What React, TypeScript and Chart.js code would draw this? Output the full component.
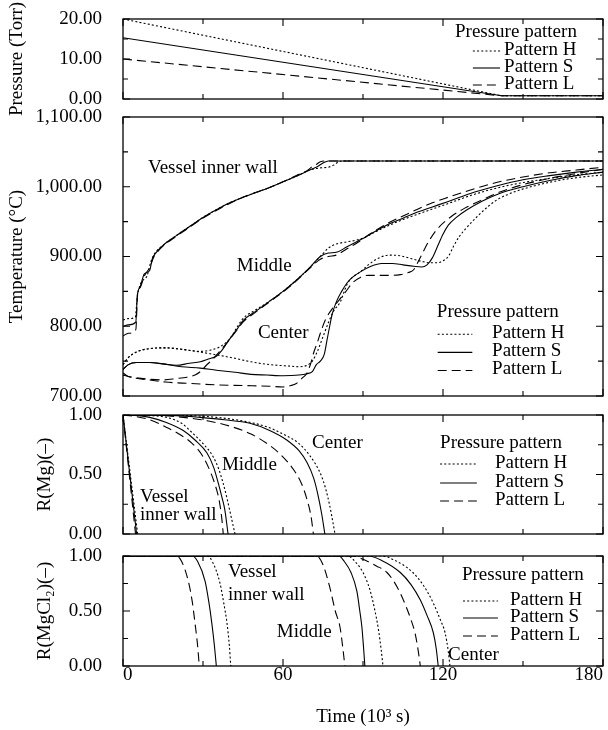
import React, { useEffect, useRef } from "react";
import { Chart, registerables } from "chart.js";

Chart.register(...registerables);

type Pt = [number, number];

// ---------- tick values ----------
const timeTicks = [0, 30, 60, 90, 120, 150, 180];
const timeLabels = [0, 60, 120, 180];
const pressureTicks = [0, 5, 10, 15, 20];
const pressureLabels = [0, 10, 20];
const tempTicks = [700, 750, 800, 850, 900, 950, 1000, 1050, 1100];
const tempLabels = [700, 800, 900, 1000, 1100];
const ratioTicks = [0, 0.25, 0.5, 0.75, 1];
const ratioLabels = [0, 0.5, 1];

const patternNames = ["Pattern H", "Pattern S", "Pattern L"];

// ---------- pressure (Torr) ----------
const pressureH: Pt[] = [[0, 20], [142, 0.8], [180, 0.8]];
const pressureS: Pt[] = [[0, 15.3], [142, 0.8], [180, 0.8]];
const pressureL: Pt[] = [[0, 10], [142, 0.8], [180, 0.8]];

// ---------- temperature (°C) ----------
const tempWallH: Pt[] = [[0, 809], [2, 811], [4.6, 813], [5.3, 840], [6.2, 857], [7.5, 866], [9, 872], [10.5, 893], [12, 905], [15, 916], [20, 930], [25, 943], [30, 956], [35, 967], [40, 977], [45, 985], [50, 992], [55, 999], [60, 1007], [65, 1015], [70, 1024], [74, 1027], [77, 1028], [79, 1031], [81, 1036], [83, 1037], [180, 1037]];
const tempWallS: Pt[] = [[0, 800], [2, 802], [4.8, 806], [5.4, 845], [6.4, 856], [8, 875], [10, 880], [11, 897], [12.5, 906], [15, 916], [20, 930], [25, 943], [30, 956], [35, 967], [40, 977], [45, 985], [50, 992], [55, 999], [60, 1007], [65, 1015], [70, 1024], [73, 1029], [75, 1034], [77, 1037], [180, 1037]];
const tempWallL: Pt[] = [[0, 786], [2, 790], [4.8, 795], [5.5, 848], [6.5, 856], [8, 872], [10, 884], [11.5, 899], [13, 907], [15, 915], [20, 929], [25, 942], [30, 955], [35, 966], [40, 976], [45, 985], [50, 992], [55, 999], [60, 1007], [65, 1016], [69, 1023], [71, 1029], [72.5, 1032], [74, 1036], [76, 1037], [180, 1037]];

const tempMidH: Pt[] = [[0, 745], [2, 755], [5, 763], [10, 768], [16, 769], [22, 767], [29, 764], [33, 766], [36, 770], [39, 778], [41, 787], [43, 800], [45, 811], [50, 824], [55, 836], [60, 850], [65, 866], [70, 884], [74, 900], [77, 912], [80, 918], [84, 921], [88, 924], [91, 928], [95, 936], [100, 945], [105, 953], [110, 960], [116, 968], [122, 976], [130, 987], [140, 998], [150, 1006], [160, 1012], [170, 1017], [180, 1021]];
const tempMidS: Pt[] = [[0, 738], [2, 745], [5, 748], [10, 748], [15, 746], [20, 744], [25, 747], [29, 749], [32, 753], [35, 757], [37, 765], [39, 776], [41, 787], [43, 797], [45, 808], [50, 822], [55, 836], [60, 850], [65, 866], [70, 884], [74, 900], [77, 905], [80, 906], [84, 914], [88, 922], [91, 928], [95, 937], [100, 947], [105, 955], [110, 963], [116, 971], [122, 979], [130, 990], [140, 1001], [150, 1010], [160, 1016], [170, 1021], [180, 1025]];
const tempMidL: Pt[] = [[0, 730], [2, 728], [5, 726], [10, 724], [15, 723], [20, 725], [24, 727], [27, 730], [29, 735], [31, 743], [34, 754], [36, 763], [38, 772], [41, 786], [43, 796], [45, 806], [50, 821], [55, 835], [60, 849], [65, 865], [70, 883], [74, 896], [77, 900], [80, 902], [84, 911], [88, 920], [91, 928], [95, 938], [100, 949], [105, 958], [110, 967], [116, 977], [122, 985], [130, 995], [140, 1006], [150, 1014], [160, 1020], [170, 1024], [180, 1028]];

const tempCenH: Pt[] = [[0, 745], [2, 755], [5, 763], [10, 768], [16, 769], [22, 767], [29, 763], [35, 759], [42, 754], [48, 749], [55, 745], [62, 743], [66, 742], [69, 744], [71, 750], [73, 765], [75, 785], [77, 805], [79, 822], [81.5, 835], [84, 860], [86, 870], [89, 878], [92, 888], [96, 898], [100, 902], [104, 901], [108, 897], [112, 893], [115, 891], [118, 891], [120, 894], [122, 900], [124, 915], [126, 928], [129, 942], [133, 958], [137, 972], [141, 983], [147, 993], [154, 1001], [162, 1008], [170, 1013], [180, 1017]];
const tempCenS: Pt[] = [[0, 738], [2, 745], [5, 748], [10, 748], [15, 746], [22, 742], [29, 740], [35, 737], [42, 734], [48, 731], [54, 730], [60, 729], [66, 730], [69, 732], [71, 735], [72.5, 745], [74, 750], [75.5, 760], [76.5, 780], [77.5, 800], [78.5, 818], [80, 835], [82, 850], [84, 862], [86, 870], [89, 878], [93, 886], [97, 890], [101, 890], [105, 888], [109, 886], [112, 885], [114, 888], [116, 898], [118, 915], [120, 932], [122, 945], [125, 956], [129, 967], [135, 980], [141, 990], [150, 1000], [160, 1009], [170, 1016], [180, 1021]];
const tempCenL: Pt[] = [[0, 733], [2, 728], [4, 726], [10, 723], [16, 720], [25, 718], [35, 716], [45, 715], [55, 714], [60, 713], [63, 715], [65, 718], [67, 725], [69, 733], [70.5, 748], [71.5, 762], [73, 778], [74, 790], [76, 810], [79, 828], [82, 842], [84, 852], [86, 862], [89, 870], [92, 873], [96, 873], [100, 873], [104, 874], [107, 877], [109, 881], [111, 895], [113, 910], [115, 924], [118, 940], [123, 957], [128, 969], [134, 980], [141, 992], [150, 1003], [160, 1012], [170, 1019], [180, 1025]];

// ---------- R(Mg) ----------
const mgWallH: Pt[] = [[0, 1], [5.5, 0]];
const mgWallS: Pt[] = [[0, 1], [5.1, 0]];
const mgWallL: Pt[] = [[0, 1], [4.7, 0]];
const mgMidH: Pt[] = [[0, 1], [10, 0.995], [16.4, 0.98], [22, 0.93], [26, 0.85], [30, 0.76], [33.8, 0.65], [36, 0.54], [37.5, 0.43], [39, 0.3], [40, 0.2], [42, 0]];
const mgMidS: Pt[] = [[0, 1], [6, 0.995], [10, 0.98], [16, 0.94], [22.6, 0.87], [27, 0.79], [31.5, 0.68], [34, 0.56], [35.7, 0.43], [37.2, 0.3], [38.2, 0.2], [39.4, 0]];
const mgMidL: Pt[] = [[0, 1], [4, 0.99], [10, 0.96], [16, 0.9], [21, 0.84], [26, 0.76], [30, 0.65], [33, 0.51], [35, 0.38], [36, 0.29], [37, 0.14], [37.6, 0]];
const mgCenH: Pt[] = [[0, 1], [25, 0.995], [35, 0.98], [45, 0.95], [54, 0.9], [60, 0.84], [66, 0.76], [70, 0.66], [74, 0.51], [76, 0.38], [77.6, 0.23], [78.7, 0.1], [79.5, 0]];
const mgCenS: Pt[] = [[0, 1], [20, 0.995], [29, 0.98], [38, 0.96], [47.6, 0.93], [55, 0.87], [61.4, 0.79], [66, 0.7], [69, 0.6], [71.5, 0.47], [73, 0.34], [74.5, 0.17], [75.7, 0]];
const mgCenL: Pt[] = [[0, 1], [15, 0.995], [22.6, 0.98], [32, 0.95], [41, 0.9], [48, 0.84], [54, 0.76], [59, 0.67], [64, 0.54], [67, 0.42], [69, 0.29], [70.5, 0.15], [71.4, 0]];

// ---------- R(MgCl2) ----------
const clWallH: Pt[] = [[0, 1], [31.5, 1], [33.5, 0.95], [36.4, 0.75], [37.8, 0.57], [39, 0.39], [39.9, 0.18], [40.4, 0]];
const clWallS: Pt[] = [[0, 1], [26, 1], [28, 0.95], [30.8, 0.77], [32.2, 0.58], [33.3, 0.39], [34.3, 0.18], [35, 0]];
const clWallL: Pt[] = [[0, 1], [20, 1], [22, 0.95], [24.5, 0.77], [26, 0.58], [27, 0.39], [28, 0.18], [28.6, 0]];
const clMidH: Pt[] = [[0, 1], [84.4, 1], [87, 0.95], [90, 0.85], [92.5, 0.7], [94.5, 0.5], [95.8, 0.33], [96.8, 0.15], [97.5, 0]];
const clMidS: Pt[] = [[0, 1], [81, 1], [83, 0.95], [85.5, 0.85], [87.7, 0.68], [88.8, 0.5], [89.6, 0.35], [90.2, 0.17], [90.7, 0]];
const clMidL: Pt[] = [[0, 1], [72.6, 1], [75, 0.92], [77.6, 0.71], [79.6, 0.5], [81.4, 0.35], [82.5, 0.15], [83.2, 0]];
const clCenH: Pt[] = [[0, 1], [97, 1], [102, 0.96], [108.7, 0.85], [113, 0.72], [116.4, 0.57], [119, 0.42], [120.8, 0.3], [122, 0.13], [122.6, 0]];
const clCenS: Pt[] = [[0, 1], [92, 1], [97, 0.96], [104, 0.85], [108, 0.74], [111.5, 0.6], [114, 0.46], [116.4, 0.3], [117.5, 0.15], [118.2, 0]];
const clCenL: Pt[] = [[0, 1], [86, 1], [90, 0.97], [95, 0.91], [99, 0.85], [103, 0.71], [106, 0.55], [108, 0.42], [109.5, 0.3], [110.7, 0.14], [111.5, 0]];

// ---------- styles / layout ----------
const FONT = "'Liberation Serif', 'DejaVu Serif', 'Times New Roman', serif";
const FS = 19;
const INK = "#000";
const DASHES: number[][] = [[2, 2.2], [], [9, 5]];
const W = 608;
const H = 730;
const PLOT_LEFT = 123;
const PLOT_RIGHT_PAD = 5;

interface Series { data: Pt[]; pattern: number }
interface Note { text: string; t: number; v: number }
interface Legend { t: number; v: number; rows: number[]; lineFrom: number; lineTo: number; textAt: number }
interface Panel {
  top: number; bottom: number; min: number; max: number;
  ticks: number[]; labels: number[]; format: (v: number) => string;
  title: string; padLeft: number; customTitle: boolean; smooth: boolean;
  series: Series[]; notes: Note[]; legend: Legend;
}

const fix2 = (v: number) => v.toFixed(2);
const comma2 = (v: number) => {
  const [i, d] = v.toFixed(2).split(".");
  return i.replace(/\B(?=(\d{3})+(?!\d))/g, ",") + "." + d;
};

const panels: Panel[] = [
  {
    top: 19, bottom: 99, min: 0, max: 20, ticks: pressureTicks, labels: pressureLabels, format: fix2,
    title: "Pressure (Torr)", padLeft: 0, customTitle: true, smooth: false,
    series: [
      { data: pressureH, pattern: 0 }, { data: pressureS, pattern: 1 }, { data: pressureL, pattern: 2 },
    ],
    notes: [],
    legend: { t: 124.5, v: 16.75, rows: [12.25, 8, 3.75], lineFrom: 131.2, lineTo: 141.4, textAt: 142.9 },
  },
  {
    top: 117, bottom: 396, min: 700, max: 1100, ticks: tempTicks, labels: tempLabels, format: comma2,
    title: "Temperature (°C)", padLeft: 0, customTitle: false, smooth: true,
    series: [
      { data: tempWallH, pattern: 0 }, { data: tempWallS, pattern: 1 }, { data: tempWallL, pattern: 2 },
      { data: tempMidH, pattern: 0 }, { data: tempMidS, pattern: 1 }, { data: tempMidL, pattern: 2 },
      { data: tempCenH, pattern: 0 }, { data: tempCenS, pattern: 1 }, { data: tempCenL, pattern: 2 },
    ],
    notes: [
      { text: "Vessel inner wall", t: 9.4, v: 1027 },
      { text: "Middle", t: 42.7, v: 886 },
      { text: "Center", t: 50.6, v: 790 },
    ],
    legend: { t: 117.7, v: 820, rows: [790, 764, 738], lineFrom: 118, lineTo: 131, textAt: 138.4 },
  },
  {
    top: 415, bottom: 534, min: 0, max: 1, ticks: ratioTicks, labels: ratioLabels, format: fix2,
    title: "R(Mg)(–)", padLeft: 28, customTitle: false, smooth: true,
    series: [
      { data: mgWallH, pattern: 0 }, { data: mgWallS, pattern: 1 }, { data: mgWallL, pattern: 2 },
      { data: mgMidH, pattern: 0 }, { data: mgMidS, pattern: 1 }, { data: mgMidL, pattern: 2 },
      { data: mgCenH, pattern: 0 }, { data: mgCenS, pattern: 1 }, { data: mgCenL, pattern: 2 },
    ],
    notes: [
      { text: "Center", t: 70.9, v: 0.765 },
      { text: "Middle", t: 37.1, v: 0.58 },
      { text: "Vessel", t: 6.4, v: 0.31 },
      { text: "inner wall", t: 6.4, v: 0.16 },
    ],
    legend: { t: 118.9, v: 0.765, rows: [0.597, 0.437, 0.286], lineFrom: 118.9, lineTo: 132.7, textAt: 139.5 },
  },
  {
    top: 556, bottom: 666, min: 0, max: 1, ticks: ratioTicks, labels: ratioLabels, format: fix2,
    title: "R(MgCl₂)(–)", padLeft: 28, customTitle: false, smooth: true,
    series: [
      { data: clWallH, pattern: 0 }, { data: clWallS, pattern: 1 }, { data: clWallL, pattern: 2 },
      { data: clMidH, pattern: 0 }, { data: clMidS, pattern: 1 }, { data: clMidL, pattern: 2 },
      { data: clCenH, pattern: 0 }, { data: clCenS, pattern: 1 }, { data: clCenL, pattern: 2 },
    ],
    notes: [
      { text: "Vessel", t: 39.4, v: 0.855 },
      { text: "inner wall", t: 39.4, v: 0.645 },
      { text: "Middle", t: 57.7, v: 0.31 },
      { text: "Center", t: 121.9, v: 0.1 },
    ],
    legend: { t: 127.1, v: 0.827, rows: [0.6, 0.445, 0.282], lineFrom: 127.5, lineTo: 140.6, textAt: 145.1 },
  },
];

function makeChart(canvas: HTMLCanvasElement, panel: Panel, isBottom: boolean): Chart {
  const font = { family: FONT, size: FS };
  const overlay = {
    id: "overlay" + panel.top,
    afterDatasetsDraw(chart: any) {
      const { ctx, chartArea } = chart;
      const { left, right, top, bottom } = chartArea;
      const xs = chart.scales.x;
      const ys = chart.scales.y;
      ctx.save();
      ctx.strokeStyle = INK;
      ctx.fillStyle = INK;
      ctx.setLineDash([]);
      ctx.lineWidth = 1.3;
      ctx.strokeRect(left, top, right - left, bottom - top);
      ctx.lineWidth = 1.1;
      ctx.beginPath();
      for (const v of panel.ticks) {
        const py = ys.getPixelForValue(v);
        const len = panel.labels.includes(v) ? 7 : 5;
        ctx.moveTo(left, py); ctx.lineTo(left + len, py);
        ctx.moveTo(right, py); ctx.lineTo(right - len, py);
      }
      for (const v of timeTicks) {
        const px = xs.getPixelForValue(v);
        const len = timeLabels.includes(v) ? 7 : 5;
        ctx.moveTo(px, bottom); ctx.lineTo(px, bottom - len);
        ctx.moveTo(px, top); ctx.lineTo(px, top + len);
      }
      ctx.stroke();

      ctx.font = `${FS}px ${FONT}`;
      ctx.textBaseline = "middle";
      ctx.textAlign = "left";
      for (const n of panel.notes) {
        ctx.fillText(n.text, xs.getPixelForValue(n.t), ys.getPixelForValue(n.v));
      }
      const lg = panel.legend;
      ctx.fillText("Pressure pattern", xs.getPixelForValue(lg.t), ys.getPixelForValue(lg.v));
      lg.rows.forEach((rv, i) => {
        const py = ys.getPixelForValue(rv);
        ctx.fillText(patternNames[i], xs.getPixelForValue(lg.textAt), py);
        ctx.beginPath();
        ctx.setLineDash(DASHES[i]);
        ctx.lineWidth = 1.1;
        ctx.moveTo(xs.getPixelForValue(lg.lineFrom), py + 1);
        ctx.lineTo(xs.getPixelForValue(lg.lineTo), py + 1);
        ctx.stroke();
      });
      ctx.setLineDash([]);
      if (panel.customTitle) {
        ctx.save();
        ctx.translate(17, (top + bottom) / 2);
        ctx.rotate(-Math.PI / 2);
        ctx.textAlign = "center";
        ctx.fillText(panel.title, 0, 0);
        ctx.restore();
      }
      ctx.restore();
    },
  };

  return new Chart(canvas, {
    type: "line",
    data: {
      datasets: panel.series.map((s, i) => ({
        label: patternNames[s.pattern] + " " + i,
        data: s.data.map(([x, y]) => ({ x, y })),
        borderColor: INK,
        borderWidth: 1.1,
        borderDash: DASHES[s.pattern],
        pointRadius: 0,
        fill: false,
        tension: 0,
        cubicInterpolationMode: panel.smooth ? "monotone" : "default",
      })),
    },
    options: {
      animation: false,
      responsive: false,
      maintainAspectRatio: false,
      events: [],
      layout: {
        padding: {
          left: panel.padLeft,
          right: PLOT_RIGHT_PAD,
          top: panel.top,
          bottom: isBottom ? 0 : H - panel.bottom,
        },
      },
      plugins: { legend: { display: false }, tooltip: { enabled: false } },
      scales: {
        x: {
          type: "linear",
          min: 0,
          max: 180,
          grid: { display: false },
          border: { display: false },
          afterBuildTicks: (s: any) => { s.ticks = timeTicks.map((v) => ({ value: v })); },
          afterFit: (s: any) => { s.height = isBottom ? H - panel.bottom : 0; s.paddingLeft = 0; s.paddingRight = 0; },
          ticks: {
            display: isBottom,
            autoSkip: false,
            maxRotation: 0,
            align: "inner",
            padding: -10,
            color: INK,
            font,
            callback: (v: any) => (timeLabels.includes(Number(v)) ? String(v) : ""),
          },
          title: { display: isBottom, text: "Time (10³ s)", color: INK, font, padding: { top: 0, bottom: 2 } },
        },
        y: {
          type: "linear",
          min: panel.min,
          max: panel.max,
          grid: { display: false },
          border: { display: false },
          afterBuildTicks: (s: any) => { s.ticks = panel.ticks.map((v) => ({ value: v })); },
          afterFit: (s: any) => { s.width = PLOT_LEFT - panel.padLeft; s.paddingTop = 0; s.paddingBottom = 0; },
          ticks: {
            autoSkip: false,
            padding: 13,
            color: INK,
            font,
            callback: (v: any) => (panel.labels.includes(Number(v)) ? panel.format(Number(v)) : ""),
          },
          title: { display: !panel.customTitle, text: panel.title, color: INK, font, padding: { top: 5.6, bottom: 0 } },
        },
      },
    } as any,
    plugins: [overlay],
  });
}

export default function App() {
  const refs = useRef<(HTMLCanvasElement | null)[]>([]);
  useEffect(() => {
    const charts = panels.map((p, i) => makeChart(refs.current[i] as HTMLCanvasElement, p, i === panels.length - 1));
    return () => charts.forEach((c) => c.destroy());
  }, []);
  return (
    <div style={{ position: "absolute", left: 0, top: 0, width: W, height: H, background: "#fff" }}>
      {panels.map((_, i) => (
        <canvas
          key={i}
          ref={(el) => { refs.current[i] = el; }}
          width={W}
          height={H}
          style={{ position: "absolute", left: 0, top: 0, width: W, height: H }}
        />
      ))}
    </div>
  );
}
